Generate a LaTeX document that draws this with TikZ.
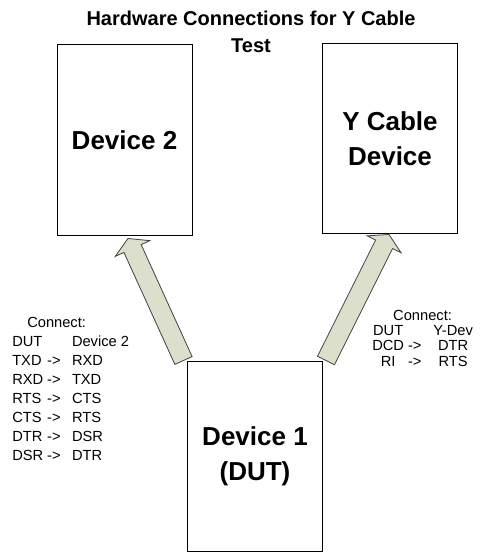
\documentclass[tikz,border=0pt]{standalone}
\usepackage{fontspec}
\setmainfont{Liberation Sans}
\usetikzlibrary{calc}
\definecolor{sage}{HTML}{DCDFCB}
\tikzstyle{device} = [draw, line width=0.75pt, minimum width=101.25pt,
  minimum height=142.5pt, inner sep=0pt, align=center,
  font=\fontsize{19.5}{26.25}\selectfont\bfseries]
\tikzstyle{pinlist} = [inner sep=0pt, anchor=base west]
\tikzstyle{fatarrow} = [draw=black!75, line width=0.6pt, fill=sage, line join=miter]

% block arrow from #1 (tail) to #2 (tip)
\newcommand{\drawfatarrow}[2]{%
  \coordinate (#2-base) at ($(#2)!8.25pt!(#1)$);
  \draw[fatarrow] ($(#1)!7.1pt!90:(#2)$) -- ($(#2-base)!7.1pt!-90:(#1)$)
    -- ($(#2-base)!14.25pt!-90:(#1)$) -- (#2)
    -- ($(#2-base)!14.25pt!90:(#1)$) -- ($(#2-base)!7.1pt!90:(#1)$)
    -- ($(#1)!7.1pt!-90:(#2)$) -- cycle;
}

\begin{document}
\begin{tikzpicture}[x=0.75pt, y=-0.75pt]
    \useasboundingbox (0,0) rectangle (482,552);
    \node[align=center, anchor=base, font=\fontsize{15}{19.9}\selectfont\bfseries]
        (title) at (251,52.5) {Hardware Connections for Y Cable\\Test};
    \node[device] (dev2) at (124.5,140) {Device 2};
    \node[device] (ydev) at (390,138.5) {Y Cable\\Device};
    \node[device] (dev1) at (255,456.5) {Device 1\\(DUT)};

    % the two block arrows
    \coordinate (tail2) at ($(dev1.north west)+(-3.5,-0.5)$);
    \coordinate (tip2) at ($(dev2.south)+(3.5,3)$);
    \coordinate (taily) at ($(dev1.north east)+(3,-0.5)$);
    \coordinate (tipy) at ($(ydev.south)+(-1,0.5)$);
    \drawfatarrow{tail2}{tip2}
    \drawfatarrow{taily}{tipy}

    % signal lists
    \node[pinlist, font=\fontsize{11}{14.3}\selectfont] (pins2) at (12,327)
        {\begin{tabular}[t]{@{}l@{\hspace{3pt}}c@{\hspace{8.5pt}}l@{}}
            \multicolumn{3}{@{\hspace{11.25pt}}l@{}}{Connect:}\\
            DUT & & Device 2\\
            TXD & -> & RXD\\
            RXD & -> & TXD\\
            RTS & -> & CTS\\
            CTS & -> & RTS\\
            DTR & -> & DSR\\
            DSR & -> & DTR
        \end{tabular}};
    \node[pinlist, font=\fontsize{11}{11.6}\selectfont] (pinsy) at (372,320)
        {\begin{tabular}[t]{@{}c@{\hspace{3pt}}c@{\hspace{9pt}}c@{}}
            \multicolumn{3}{@{}c@{}}{Connect:}\\
            DUT & & Y-Dev\\
            DCD & -> & DTR\\
            RI & -> & RTS
        \end{tabular}};
\end{tikzpicture}
\end{document}
